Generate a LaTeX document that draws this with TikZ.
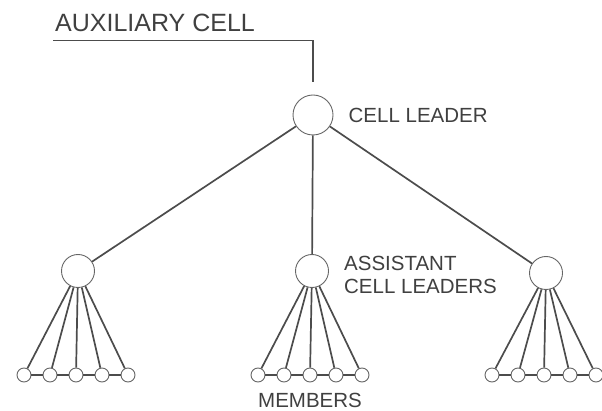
\documentclass[tikz,border=0pt]{standalone}
\usepackage{fontspec}
\setmainfont{Liberation Sans}
\usetikzlibrary{positioning}

\begin{document}
\begin{tikzpicture}[
                x=1pt, y=-1pt,
                link/.style={draw=black!70, line width=1.7pt},
                leader/.style={circle, draw=black!60, line width=0.9pt, inner sep=0pt, minimum size=40pt},
                assistant/.style={leader, minimum size=33pt},
                member/.style={leader, minimum size=14pt},
                caption/.style={inner sep=0pt, text=black!75, font=\fontsize{20.5}{23}\selectfont},
                node distance=15pt
            ]
                \useasboundingbox (0,0) rectangle (602,411);
                \node [leader] (cl) at (313,115) {};
                \node [assistant] (a-1) at (78,271) {};
                \node [assistant] (a-2) at (312,271) {};
                \node [assistant] (a-3) at (546,273) {};
                \foreach \i/\x in {1/76,2/310,3/544} {
                    \foreach \j in {1,...,5} {
                        \node [member] (m-\i-\j) at ({\x+26*(\j-3)},375) {};
                    }
                }
                % leader to assistants, assistants to their members
                \foreach \i in {1,2,3} {
                    \draw [link] (cl) -- (a-\i);
                    \foreach \j in {1,...,5} {
                        \draw [link] (a-\i) -- (m-\i-\j);
                    }
                    \foreach \j [count=\k from 2] in {1,...,4} {
                        \draw [link] (m-\i-\j) -- (m-\i-\k);
                    }
                }
                % labels
                \node [caption, anchor=base west, font=\fontsize{25}{30}\selectfont] (aux) at (55,32) {AUXILIARY CELL};
                \coordinate [below=8pt of aux.south west] (uline);
                \coordinate [above=13pt of cl.north] (stub);
                \draw [draw=black!70, line width=1.5pt] ([xshift=-2pt]uline) -| (stub);
                \node [caption, right=of cl] {CELL LEADER};
                \node [caption, align=left, right=15pt of a-2, yshift=-4pt] {ASSISTANT\\CELL LEADERS};
                \node [caption, below=11pt of m-2-3] {MEMBERS};
            \end{tikzpicture}
\end{document}
